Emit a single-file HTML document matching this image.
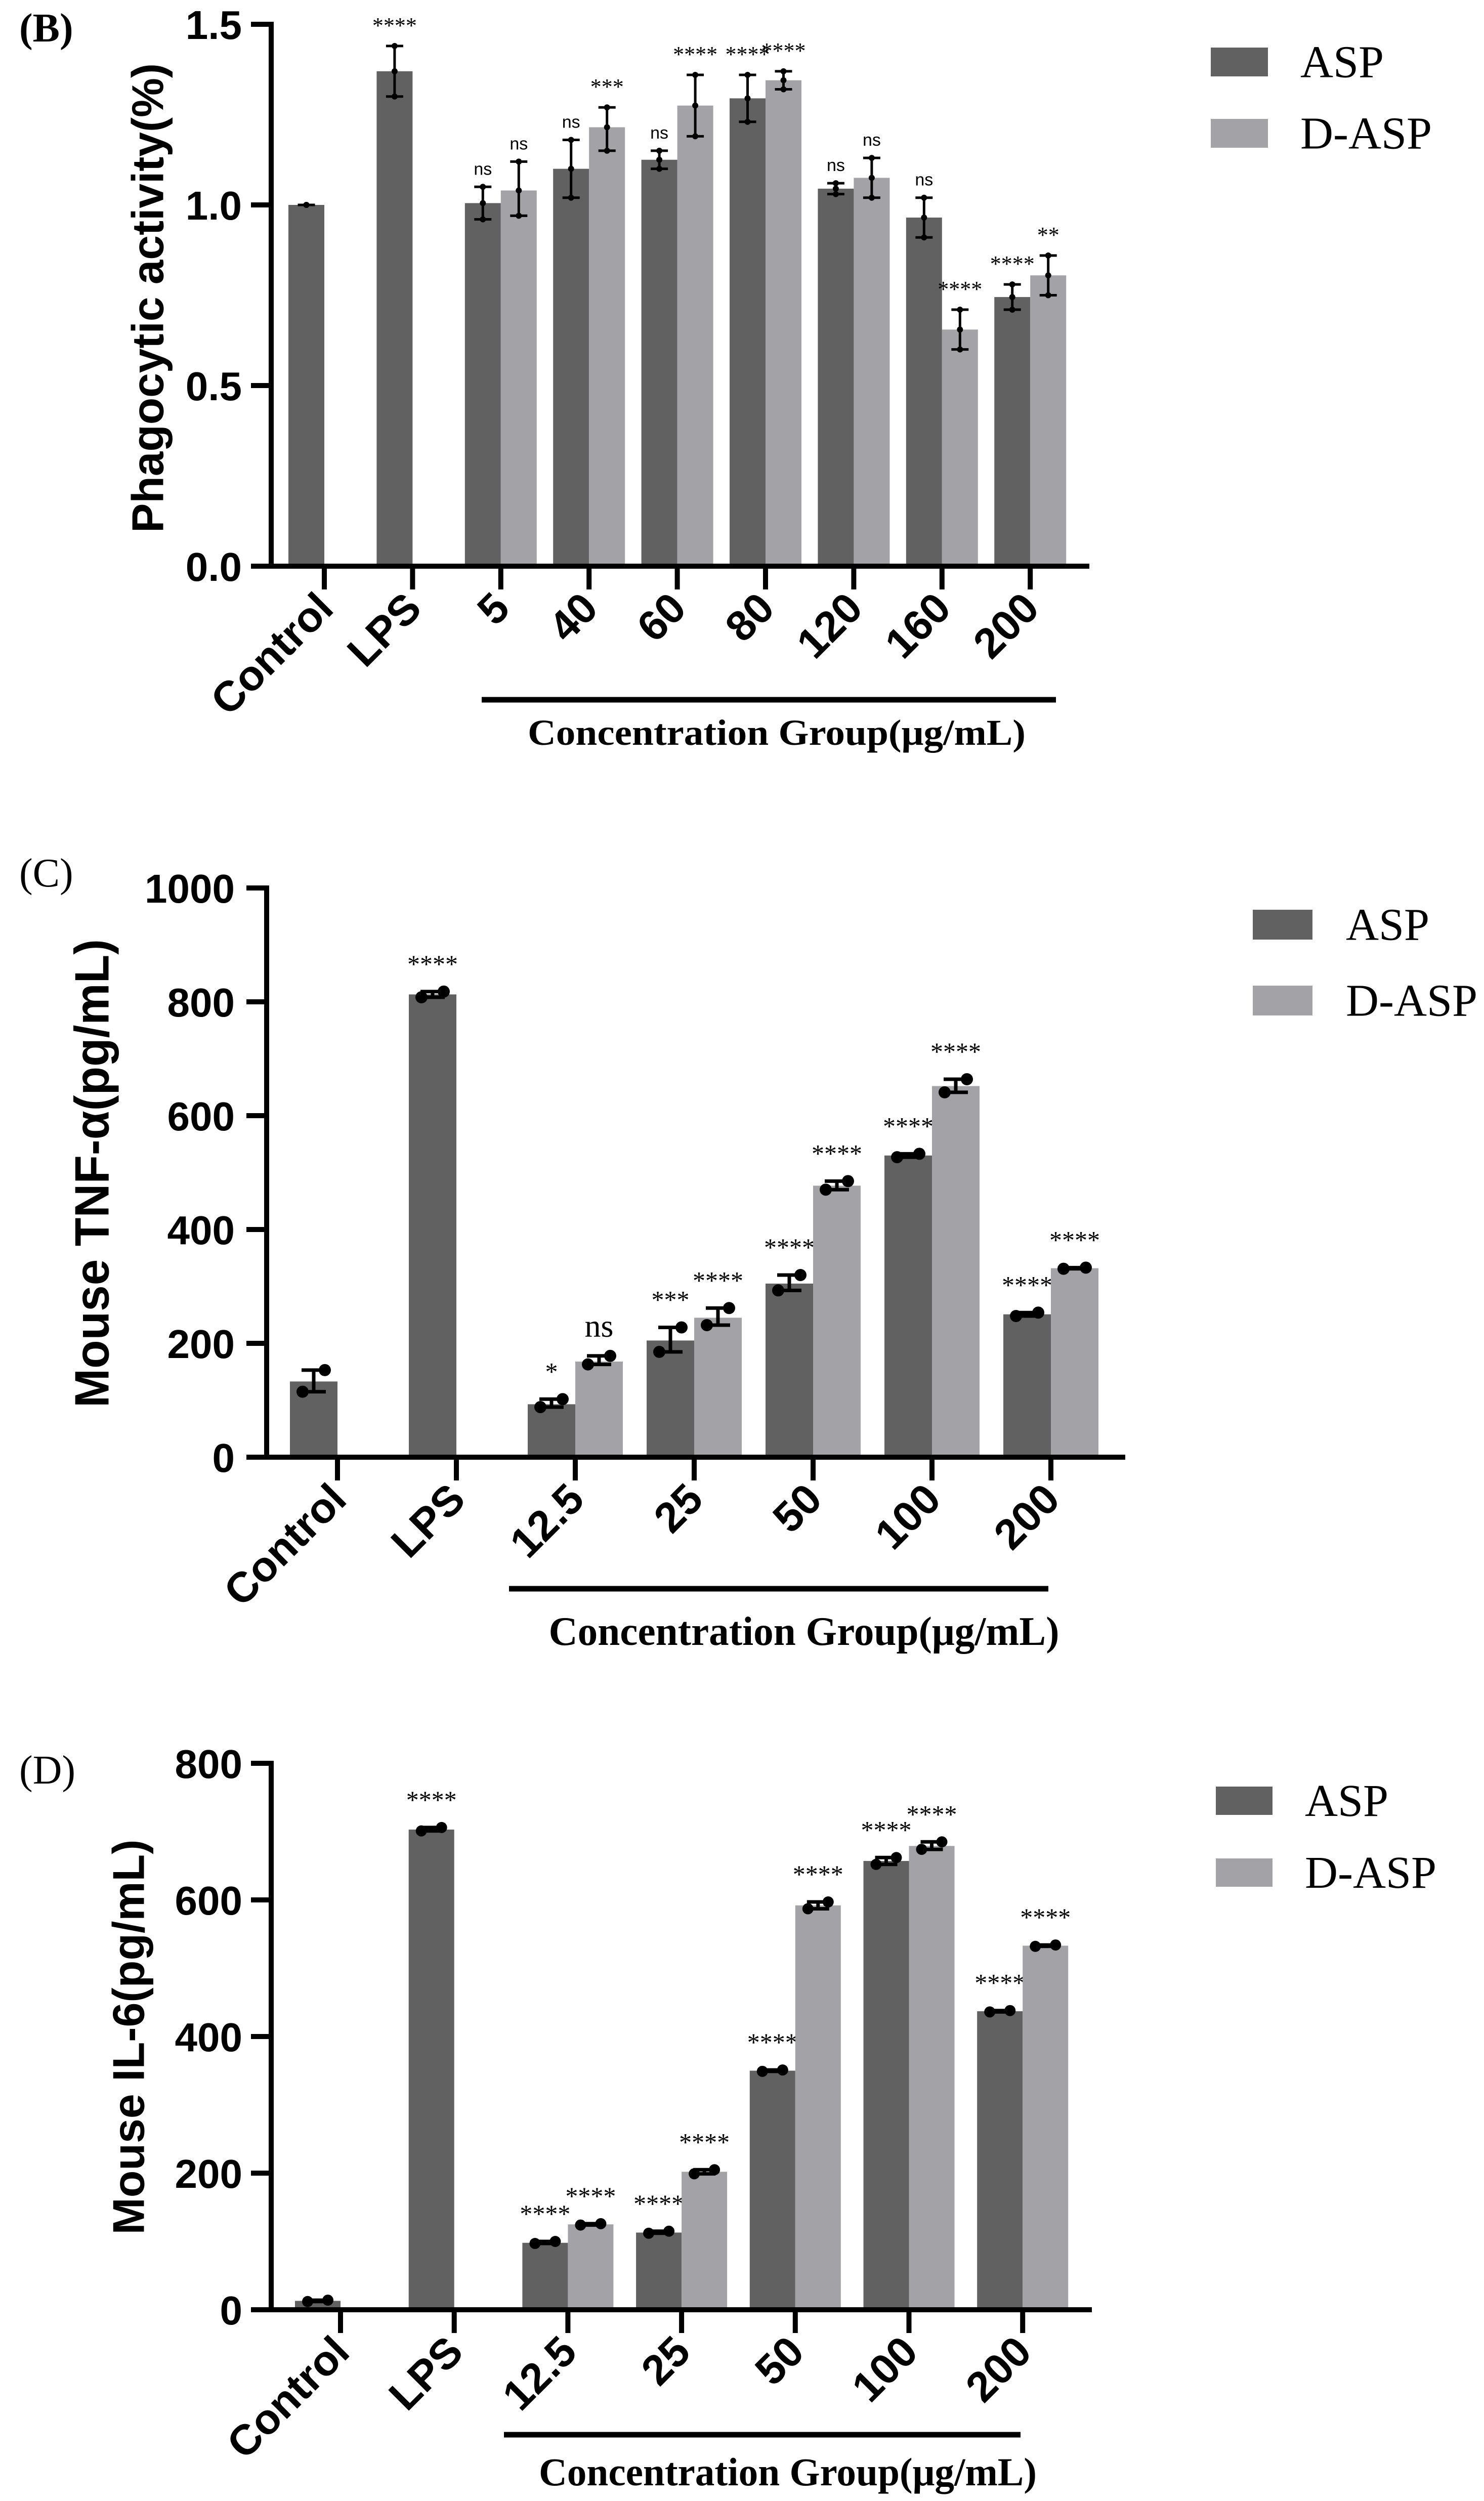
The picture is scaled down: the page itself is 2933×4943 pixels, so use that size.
<!DOCTYPE html>
<html><head><meta charset="utf-8">
<style>
html,body{margin:0;padding:0;background:#fff;}
svg{display:block;}
</style></head>
<body>
<svg id="fig" width="2933" height="4943" viewBox="0 0 2933 4943" xmlns="http://www.w3.org/2000/svg"></svg>
<script>
// ---- Panel B data ----
const catsB = ["Control","LPS","5","40","60","80","120","160","200"];
const aspB = [1.00,1.37,1.005,1.10,1.125,1.295,1.045,0.965,0.745];
const aspLoB = [1.00,1.30,0.96,1.02,1.10,1.23,1.03,0.91,0.71];
const aspHiB = [1.00,1.44,1.05,1.18,1.15,1.36,1.06,1.02,0.78];
const daspB = [null,null,1.04,1.215,1.275,1.345,1.075,0.655,0.805];
const daspLoB = [null,null,0.97,1.15,1.19,1.32,1.02,0.60,0.75];
const daspHiB = [null,null,1.12,1.27,1.36,1.37,1.13,0.71,0.86];
const aspSigB = ["","****","ns","ns","ns","****","ns","ns","****"];
const daspSigB = ["","","ns","***","****","****","ns","****","**"];
const ticksB = [0,0.5,1.0,1.5];
const tickLabB = ["0.0","0.5","1.0","1.5"];
// ---- Panel C data ----
const catsC = ["Control","LPS","12.5","25","50","100","200"];
const aspC = [133,813,93,205,305,530,251];
const aspLoC = [115,808,88,185,293,527,248];
const aspHiC = [153,818,102,228,320,533,254];
const daspC = [null,null,168,245,477,652,332];
const daspLoC = [null,null,163,232,470,641,331];
const daspHiC = [null,null,178,262,485,664,333];
const aspSigC = ["","****","*","***","****","****","****"];
const daspSigC = ["","","ns","****","****","****","****"];
const ticksC = [0,200,400,600,800,1000];
// ---- Panel D data ----
const catsD = ["Control","LPS","12.5","25","50","100","200"];
const aspD = [13,703,98,113,350,657,437];
const aspLoD = [12,701,97,112,349,652,436];
const aspHiD = [14,706,100,115,351,662,438];
const daspD = [null,null,125,202,592,679,533];
const daspLoD = [null,null,124,199,587,674,532];
const daspHiD = [null,null,126,205,597,685,534];
const aspSigD = ["","****","****","****","****","****","****"];
const daspSigD = ["","","****","****","****","****","****"];
const ticksD = [0,200,400,600,800];

const NS='http://www.w3.org/2000/svg';
const svg=document.getElementById('fig');
function el(tag,attrs,parent,txt){const e=document.createElementNS(NS,tag);for(const k in attrs)e.setAttribute(k,attrs[k]);if(txt!==undefined)e.textContent=txt;(parent||svg).appendChild(e);return e;}
const DARK='#616161', LIGHT='#a3a3a7';

function panel(cfg){
  const g=el('g',{});
  
  
  const y=v=>cfg.y0-(v-cfg.ymin)/(cfg.ymax-cfg.ymin)*(cfg.y0-cfg.ytop);
  const cx=i=>cfg.x0+i*cfg.step;
  const lab=el('text',{x:38,y:cfg.labY,'font-family':'Liberation Serif, serif','font-size':80,'font-weight':cfg.labBold?'bold':'normal'},g,cfg.letter);
  
  
  // bars
  for(let i=0;i<cfg.cats.length;i++){
    const series=[[cfg.asp,cfg.aspLo,cfg.aspHi,cfg.aspSig,DARK,-1,'asp'],[cfg.dasp,cfg.daspLo,cfg.daspHi,cfg.daspSig,LIGHT,0,'dasp']];
    for(const s of series){
      const v=s[0][i]; if(v===null) continue;
      const bx=cx(i)+s[5]*cfg.bw;
      const r=el('rect',{x:bx,y:y(v),width:cfg.bw,height:y(cfg.ymin)-y(v),fill:s[4]},g);
      
      
      const mx=bx+cfg.bw/2, lo=s[1][i], hi=s[2][i];
      const eg=el('g',{stroke:'#000','stroke-width':cfg.ew},g);
      
      
      el('line',{x1:mx,x2:mx,y1:y(lo),y2:y(hi)},eg);
      el('line',{x1:mx-cfg.cap,x2:mx+cfg.cap,y1:y(hi),y2:y(hi)},eg);
      el('line',{x1:mx-cfg.cap,x2:mx+cfg.cap,y1:y(lo),y2:y(lo)},eg);
      const d1=el('circle',{cx:mx-cfg.dotDx,cy:y(lo),r:cfg.dotR,fill:'#000'},g);
      
      
      const d2=el('circle',{cx:mx+cfg.dotDx,cy:y(hi),r:cfg.dotR,fill:'#000'},g);
      
      
      if(cfg.midDot){const d3=el('circle',{cx:mx,cy:y(v),r:cfg.dotR,fill:'#000'},g);
        
        }
      const sig=s[3][i];
      if(sig){
        const isNs=sig==='ns';
        const t=el('text',{x:mx,y:y(hi)-(isNs?cfg.nsGap:cfg.starGap),'text-anchor':'middle',
          'font-family':isNs&&cfg.nsSans?'Liberation Sans, sans-serif':'Liberation Serif, serif',
          'font-size':isNs?cfg.nsSize:cfg.starSize},g,sig);
        
        
      }
    }
  }
  // axes
  const ax=el('g',{stroke:'#000','stroke-width':10,fill:'none'},g);
  
  
  el('line',{x1:cfg.ax,x2:cfg.ax,y1:cfg.ytop-5,y2:cfg.y0+5},ax);
  el('line',{x1:cfg.ax-5,x2:cfg.xend,y1:cfg.y0,y2:cfg.y0},ax);
  for(let k=0;k<cfg.ticks.length;k++){
    const ty=y(cfg.ticks[k]);
    el('line',{x1:cfg.ax-40,x2:cfg.ax,y1:ty,y2:ty},ax);
    const t=el('text',{x:cfg.tickR,y:ty+29,'text-anchor':'end','font-family':'Liberation Sans, sans-serif','font-weight':'bold','font-size':80},g,cfg.tickLab[k]);
    
    
  }
  for(let i=0;i<cfg.cats.length;i++){
    el('line',{x1:cx(i),x2:cx(i),y1:cfg.y0,y2:cfg.y0+46},ax);
    const tx=cx(i)+22, ty=cfg.y0+88;
    const t=el('text',{x:tx,y:ty,'text-anchor':'end','font-family':'Liberation Sans, sans-serif','font-weight':'bold','font-size':84,transform:`rotate(-45 ${tx} ${ty})`},g,cfg.cats[i]);
    
    
  }
  // y title
  const yt=el('text',{x:cfg.ytX,y:cfg.ytY,'text-anchor':'middle','dominant-baseline':'central','font-family':'Liberation Sans, sans-serif','font-weight':'bold','font-size':cfg.ytSize,textLength:cfg.ytLen,lengthAdjust:'spacingAndGlyphs',transform:`rotate(-90 ${cfg.ytX} ${cfg.ytY})`},g,cfg.ytitle);
  
  
  // bracket + group title
  const br=el('line',{x1:cfg.brX1,x2:cfg.brX2,y1:cfg.brY,y2:cfg.brY,stroke:'#000','stroke-width':11},g);
  
  
  const ct=el('text',{x:cfg.ctX,y:cfg.ctY,'text-anchor':'middle','font-family':'Liberation Serif, serif','font-weight':'bold','font-size':cfg.ctSize,textLength:cfg.ctLen,lengthAdjust:'spacingAndGlyphs'},g,'Concentration Group(μg/mL)');
  
  
  // legend
  const lg=el('g',{},g);
  
  
  const items=[['ASP',DARK,cfg.lgY1],['D-ASP',LIGHT,cfg.lgY2]];
  for(const it of items){
    const r=el('rect',{x:cfg.lgX,y:it[2],width:cfg.lgW,height:cfg.lgH,fill:it[1]},lg);
    
    
    const t=el('text',{x:cfg.lgTX,y:it[2]+cfg.lgH/2+30,'font-family':'Liberation Serif, serif','font-size':90},lg,it[0]);
    
    
  }
}

panel({name:'panel-b-phagocytic',letter:'(B)',labY:82,labBold:true,cats:catsB,asp:aspB,aspLo:aspLoB,aspHi:aspHiB,dasp:daspB,daspLo:daspLoB,daspHi:daspHiB,aspSig:aspSigB,daspSig:daspSigB,
  ticks:ticksB,tickLab:tickLabB,ymin:0,ymax:1.5,y0:1119,ytop:48,x0:641,step:174.4,bw:71,ax:536,xend:2153,tickR:478,
  ew:5,cap:17,dotR:6,dotDx:0,midDot:true,starGap:26,nsGap:24,starSize:44,nsSize:34,nsSans:true,
  ytitle:'Phagocytic activity(%)',ytX:292,ytY:589,ytSize:88,ytLen:928,
  brX1:952,brX2:2087,brY:1383,ctX:1535,ctY:1472,ctSize:72,ctLen:984,
  lgX:2393,lgW:113,lgH:57,lgY1:94,lgY2:235,lgTX:2570});

panel({name:'panel-c-tnf',letter:'(C)',labY:1752,labBold:false,cats:catsC,asp:aspC,aspLo:aspLoC,aspHi:aspHiC,dasp:daspC,daspLo:daspLoC,daspHi:daspHiC,aspSig:aspSigC,daspSig:daspSigC,
  ticks:ticksC,tickLab:ticksC.map(String),ymin:0,ymax:1000,y0:2880,ytop:1755,x0:667,step:235,bw:94,ax:527,xend:2224,tickR:464,
  ew:7,cap:24,dotR:12,dotDx:22,midDot:false,starGap:38,nsGap:38,starSize:50,nsSize:64,nsSans:false,
  ytitle:'Mouse TNF-α(pg/mL)',ytX:182,ytY:2319,ytSize:96,ytLen:926,
  brX1:1006,brX2:2072,brY:3140,ctX:1589,ctY:3251,ctSize:80,ctLen:1009,
  lgX:2476,lgW:118,lgH:59,lgY1:1798,lgY2:1948,lgTX:2660});

panel({name:'panel-d-il6',letter:'(D)',labY:3525,labBold:false,cats:catsD,asp:aspD,aspLo:aspLoD,aspHi:aspHiD,dasp:daspD,daspLo:daspLoD,daspHi:daspHiD,aspSig:aspSigD,daspSig:daspSigD,
  ticks:ticksD,tickLab:ticksD.map(String),ymin:0,ymax:800,y0:4565,ytop:3485,x0:673,step:224.7,bw:90,ax:536,xend:2158,tickR:479,
  ew:7,cap:22,dotR:11,dotDx:20,midDot:false,starGap:38,nsGap:38,starSize:50,nsSize:64,nsSans:false,
  ytitle:'Mouse IL-6(pg/mL)',ytX:254,ytY:4026,ytSize:88,ytLen:781,
  brX1:996,brX2:2017,brY:4812,ctX:1557,ctY:4912,ctSize:78,ctLen:984,
  lgX:2403,lgW:112,lgH:56,lgY1:3531,lgY2:3673,lgTX:2579});
</script>
</body></html>
